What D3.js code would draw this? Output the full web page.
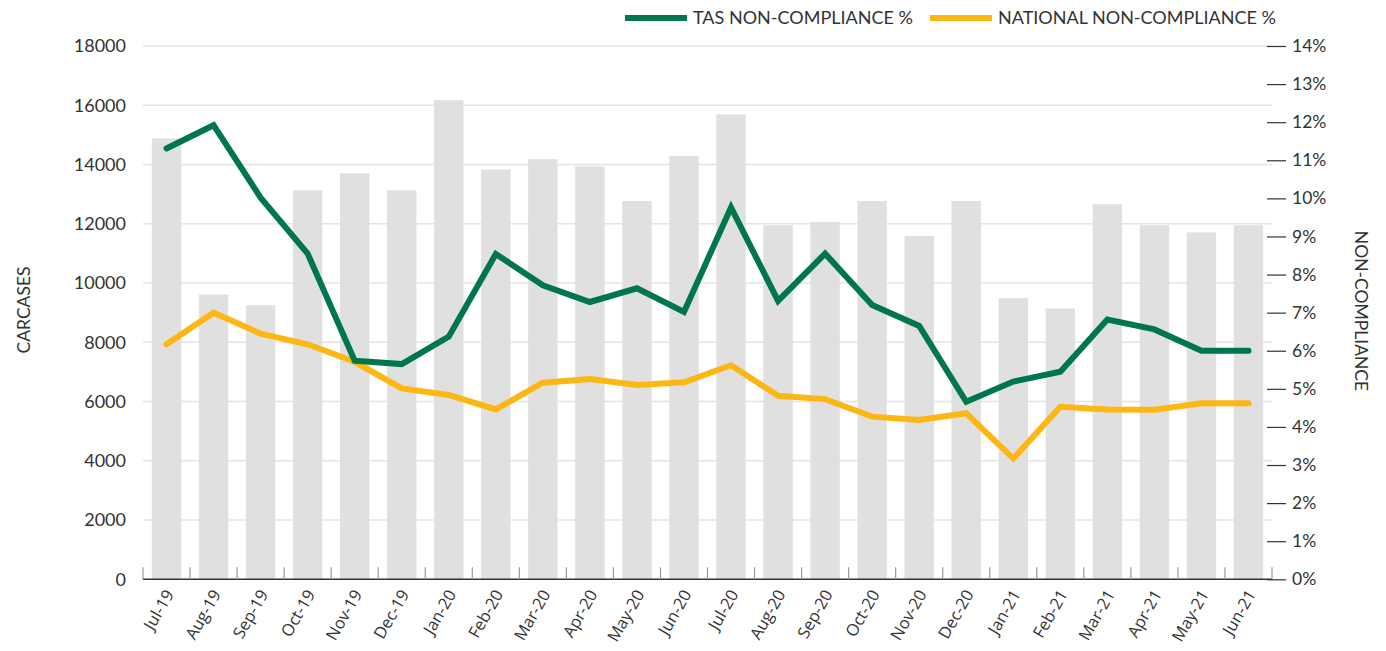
<!DOCTYPE html>
<html>
<head>
<meta charset="utf-8">
<script src="https://cdn.jsdelivr.net/npm/d3@7"></script>
<style>
  body { margin: 0; background: #fff; }
  svg text { fill: #333; }
</style>
</head>
<body>
<svg id="chart" width="1386" height="651"></svg>
<script>
// Monthly carcases processed and non-compliance rates
const months = ["Jul-19","Aug-19","Sep-19","Oct-19","Nov-19","Dec-19","Jan-20","Feb-20","Mar-20","Apr-20","May-20","Jun-20",
                "Jul-20","Aug-20","Sep-20","Oct-20","Nov-20","Dec-20","Jan-21","Feb-21","Mar-21","Apr-21","May-21","Jun-21"];
const carcases = [14880, 9610, 9250, 13130, 13700, 13130, 16170, 13830, 14180, 13940, 12770, 14290,
                  15690, 11950, 12060, 12770, 11590, 12770, 9490, 9140, 12660, 11950, 11710, 11950];
const tasPct = [11.31, 11.92, 10.02, 8.55, 5.74, 5.65, 6.37, 8.54, 7.72, 7.28, 7.64, 7.02,
                9.76, 7.31, 8.55, 7.20, 6.65, 4.66, 5.19, 5.45, 6.82, 6.56, 6.00, 6.00];
const nationalPct = [6.17, 7.00, 6.45, 6.17, 5.71, 5.01, 4.84, 4.46, 5.16, 5.26, 5.10, 5.17,
                     5.62, 4.82, 4.73, 4.27, 4.18, 4.36, 3.17, 4.53, 4.46, 4.45, 4.62, 4.62];
const leftTicks = [0, 2000, 4000, 6000, 8000, 10000, 12000, 14000, 16000, 18000];
const rightTicks = d3.range(0, 15);
const seriesNames = ["TAS NON-COMPLIANCE %", "NATIONAL NON-COMPLIANCE %"];

const GREEN = "#00774a", GOLD = "#fdb714", BAR = "#e0e0e0", GRID = "#e4e4e4";
const svg = d3.select("#chart");
const plotLeft = 143, plotRight = 1272, plotTop = 46, plotBottom = 579.3;

const x = d3.scaleBand().domain(months).range([plotLeft, plotRight]).paddingInner(0.375).paddingOuter(0.1875);
const yL = d3.scaleLinear().domain([0, 18000]).range([plotBottom, plotTop]);
const yR = d3.scaleLinear().domain([0, 14]).range([plotBottom, plotTop]);

// horizontal gridlines
svg.append("g").selectAll("line").data(leftTicks.slice(1)).join("line")
  .attr("x1", plotLeft).attr("x2", plotRight)
  .attr("y1", d => yL(d)).attr("y2", d => yL(d))
  .attr("stroke", GRID).attr("stroke-width", 1.5);

// bars
svg.append("g").selectAll("rect").data(carcases).join("rect")
  .attr("x", (d, i) => x(months[i]))
  .attr("width", x.bandwidth())
  .attr("y", d => yL(d))
  .attr("height", d => plotBottom - yL(d))
  .attr("fill", BAR);

// left axis labels
const axL = svg.append("g").attr("transform", `translate(${plotLeft},0)`)
  .call(d3.axisLeft(yL).tickValues(leftTicks).tickSize(0).tickPadding(17).tickFormat(d3.format("d")));
axL.select(".domain").remove();
axL.selectAll("text").style("font-family", "Lato, sans-serif").style("font-size", "18px").attr("fill", "#333");

// x axis with boundary ticks
const xAxisG = svg.append("g").attr("transform", `translate(0,${plotBottom})`);
xAxisG.append("line").attr("x1", plotLeft).attr("x2", plotRight).attr("y1", 0).attr("y2", 0)
  .attr("stroke", "#333").attr("stroke-width", 1.5);
const step = x.step();
xAxisG.selectAll("line.b").data(d3.range(months.length + 1)).join("line").attr("class", "b")
  .attr("x1", i => plotLeft + i * step).attr("x2", i => plotLeft + i * step)
  .attr("y1", 0).attr("y2", -12).attr("stroke", "#999").attr("stroke-width", 1.2);
xAxisG.selectAll("text").data(months).join("text")
  .attr("transform", d => `translate(${x(d) + x.bandwidth() / 2 + 3},12) rotate(-60)`)
  .attr("text-anchor", "end").attr("dy", "0.35em")
  .style("font-family", "'Open Sans', sans-serif").style("font-size", "16.5px")
  .text(d => d);

// right axis
const axR = svg.append("g").attr("transform", `translate(1267,0)`)
  .call(d3.axisRight(yR).tickValues(rightTicks).tickSize(19).tickPadding(6).tickFormat(d => d + "%"));
axR.select(".domain").remove();
axR.selectAll("line").attr("stroke", "#333").attr("stroke-width", 1.2);
axR.selectAll("text").style("font-family", "Lato, sans-serif").style("font-size", "17.5px").attr("fill", "#333");

// lines
const line = d3.line().x((d, i) => x(months[i]) + x.bandwidth() / 2).y(d => yR(d));
[[nationalPct, GOLD], [tasPct, GREEN]].forEach(([vals, col]) => {
  svg.append("path").datum(vals).attr("d", line)
    .attr("fill", "none").attr("stroke", col).attr("stroke-width", 6)
    .attr("stroke-linejoin", "miter").attr("stroke-linecap", "round");
});

// axis titles
svg.append("text").attr("transform", "translate(30,310) rotate(-90)")
  .attr("text-anchor", "middle").style("font-family", "Lato, sans-serif").style("font-size", "17.5px")
  .text("CARCASES");
svg.append("text").attr("transform", "translate(1355,311) rotate(90)")
  .attr("text-anchor", "middle").style("font-family", "Lato, sans-serif").style("font-size", "17.5px")
  .text("NON-COMPLIANCE");

// legend
const legend = [
  { name: seriesNames[0], color: GREEN, x0: 625 },
  { name: seriesNames[1], color: GOLD, x0: 930 }
];
legend.forEach(l => {
  svg.append("line").attr("x1", l.x0).attr("x2", l.x0 + 62).attr("y1", 18).attr("y2", 18)
    .attr("stroke", l.color).attr("stroke-width", 6);
  svg.append("text").attr("x", l.x0 + 68).attr("y", 18).attr("dy", "0.35em")
    .style("font-family", "Lato, sans-serif").style("font-size", "18px").text(l.name);
});
</script>
</body>
</html>
